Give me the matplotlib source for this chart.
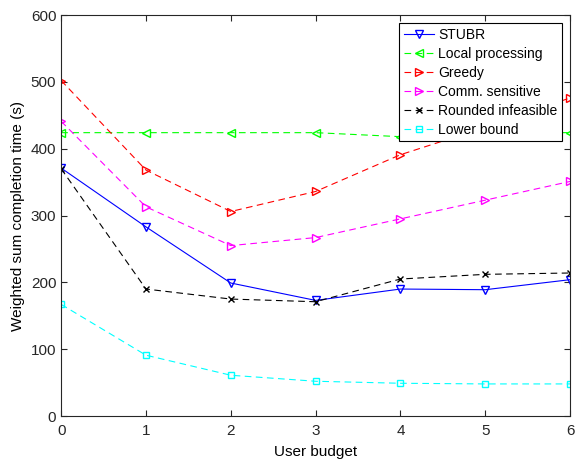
import numpy as np
import matplotlib.pyplot as plt

plt.rcParams['font.family'] = ['Liberation Sans', 'DejaVu Sans']

budget = [0, 1, 2, 3, 4, 5, 6]
stubr = [371, 283, 199, 173, 190, 189, 204]
local = [424, 424, 424, 424, 418, 424, 424]
greedy = [502, 368, 306, 336, 391, 432, 476]
comm = [441, 313, 255, 267, 295, 323, 351]
rounded = [370, 190, 175, 171, 205, 212, 214]
lower = [167, 91, 61, 52, 49, 48, 48]

fig = plt.figure(figsize=(5.77, 4.63), dpi=100)
ax = fig.add_axes([0.106, 0.1015, 0.882, 0.866])

ms = 6
dash = (0, (6, 4))
ax.plot(budget, stubr, color='#0000ff', ls='-', lw=0.8, marker='v', mfc='none', ms=ms, label='STUBR')
ax.plot(budget, local, color='#00ff00', ls=dash, lw=0.8, marker='<', mfc='none', ms=ms, label='Local processing')
ax.plot(budget, greedy, color='#ff0000', ls=dash, lw=0.8, marker='>', mfc='none', ms=ms, label='Greedy')
ax.plot(budget, comm, color='#ff00ff', ls=dash, lw=0.8, marker='>', mfc='none', ms=ms, label='Comm. sensitive')
ax.plot(budget, rounded, color='black', ls=dash, lw=0.8, marker='x', ms=4, label='Rounded infeasible')
ax.plot(budget, lower, color='#00ffff', ls=dash, lw=0.8, marker='s', mfc='none', ms=5, label='Lower bound')

ax.set_xlim(0, 6)
ax.set_ylim(0, 600)
ax.set_xticks(budget)
ax.set_yticks(range(0, 601, 100))
ax.tick_params(direction='in', top=True, right=True, labelsize=11, length=4, colors='#262626')
ax.tick_params(axis='x', pad=6)
for s in ax.spines.values():
    s.set_color('#262626')
    s.set_linewidth(0.8)
ax.set_xlabel('User budget', fontsize=11, labelpad=5)
ax.set_ylabel('Weighted sum completion time (s)', fontsize=11)

leg = ax.legend(loc='upper right', fontsize=10, fancybox=False, framealpha=1,
                edgecolor='black', borderpad=0.3, labelspacing=0.37, handlelength=2.2,
                handletextpad=0.3, borderaxespad=0.6)
leg.get_frame().set_linewidth(0.8)

fig.savefig('out.png', dpi=100)
